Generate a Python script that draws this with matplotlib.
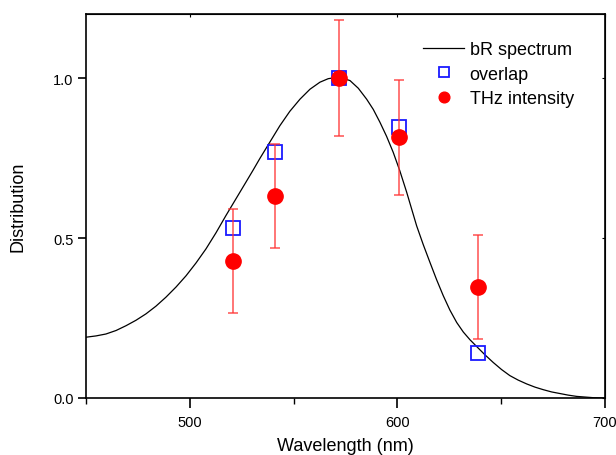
import matplotlib.pyplot as plt
from matplotlib.ticker import MultipleLocator

plt.rcParams['font.family'] = ['Liberation Sans', 'DejaVu Sans']

# bR absorption spectrum
spec_wl = [450, 454.8, 459.6, 464.5, 469.3, 474.1, 478.9, 483.7, 488.5, 493.4, 498.2,
           503, 507.8, 512.6, 517.4, 522.2, 527, 530.4, 533.8, 538.6, 543.4, 548.2, 553.1,
           557.9, 562.7, 566.7, 570.7, 574, 577.2, 581.2, 585.2, 588.4, 591.6, 594.8,
           598, 601.2, 604.5, 609.3, 612.5, 615.7, 618.9, 622.1, 625.3, 628.6, 631.8,
           635, 638.2, 642.2, 646.2, 650.2, 654.2, 658.2, 662.3, 666.3, 670.3, 674.3,
           678.3, 682.3, 686.4, 690.4, 694.4, 700]
spec_val = [0.19, 0.194, 0.20, 0.211, 0.226, 0.243, 0.263, 0.287, 0.315, 0.347, 0.382,
            0.422, 0.466, 0.516, 0.57, 0.622, 0.674, 0.711, 0.749, 0.80, 0.851, 0.896, 0.934,
            0.965, 0.987, 0.998, 1.002, 0.999, 0.992, 0.968, 0.934, 0.902, 0.862, 0.818,
            0.768, 0.71, 0.643, 0.538, 0.479, 0.424, 0.37, 0.32, 0.275, 0.236, 0.206,
            0.182, 0.161, 0.135, 0.111, 0.089, 0.07, 0.056, 0.044, 0.034, 0.026, 0.019,
            0.014, 0.009, 0.005, 0.003, 0.001, 0.0]

# overlap values
ov_wl = [521, 541, 572, 601, 639]
ov_val = [0.53, 0.768, 1.0, 0.846, 0.14]

# THz intensity with error bars
thz_wl = [521, 541, 572, 601, 639]
thz_val = [0.429, 0.632, 1.0, 0.815, 0.348]
thz_err = [0.162, 0.163, 0.18, 0.18, 0.163]

fig = plt.figure(figsize=(6.16, 4.56), dpi=100)
ax = fig.add_axes([0.1396, 0.125, 0.8424, 0.842])

ax.plot(spec_wl, spec_val, color='black', lw=0.9, label='bR spectrum', zorder=2)
ax.plot(ov_wl, ov_val, ls='none', marker='s', ms=9.5, mfc='none', mec='#1a1aff',
        mew=1.3, label='overlap', zorder=3)
ax.errorbar(thz_wl, thz_val, yerr=thz_err, fmt='none', ecolor='#ff3333', elinewidth=1.1,
            capsize=3.6, capthick=1.1, alpha=0.85, zorder=4)
ax.plot(thz_wl, thz_val, ls='none', marker='o', ms=11, color='#ff0000', label='THz intensity',
        zorder=5)

ax.set_xlim(450, 700)
ax.set_ylim(0, 1.2)
ax.xaxis.set_major_locator(MultipleLocator(100))
ax.xaxis.set_minor_locator(MultipleLocator(50))
ax.yaxis.set_major_locator(MultipleLocator(0.5))
ax.yaxis.set_major_formatter(plt.FuncFormatter(lambda v, p: f'{v:.1f}'))

ax.tick_params(axis='x', which='major', direction='out', length=7, width=1.2, labelsize=10.5, pad=5)
ax.tick_params(axis='x', which='minor', direction='out', length=4, width=1.0)
ax.tick_params(axis='y', which='major', direction='out', length=6, width=1.2, labelsize=10.5, pad=3)

for s in ax.spines.values():
    s.set_linewidth(1.2)

top = ax.secondary_xaxis('top')
top.xaxis.set_major_locator(MultipleLocator(100))
top.tick_params(direction='in', length=2.5, width=0.8, labeltop=False)
right = ax.secondary_yaxis('right')
right.yaxis.set_major_locator(MultipleLocator(0.5))
right.tick_params(direction='in', length=2.5, width=0.8, labelright=False)

ax.set_xlabel('Wavelength (nm)', fontsize=13, labelpad=6)
ax.set_ylabel('Distribution', fontsize=13)
ax.yaxis.set_label_coords(-0.114, 0.5)

ax.legend(loc='upper left', bbox_to_anchor=(0.649, 0.93), frameon=False, fontsize=13,
          handlelength=2.3, handletextpad=0.3, labelspacing=0.42, markerscale=0.7,
          borderpad=0, borderaxespad=0)

fig.savefig('out.png', dpi=100)
